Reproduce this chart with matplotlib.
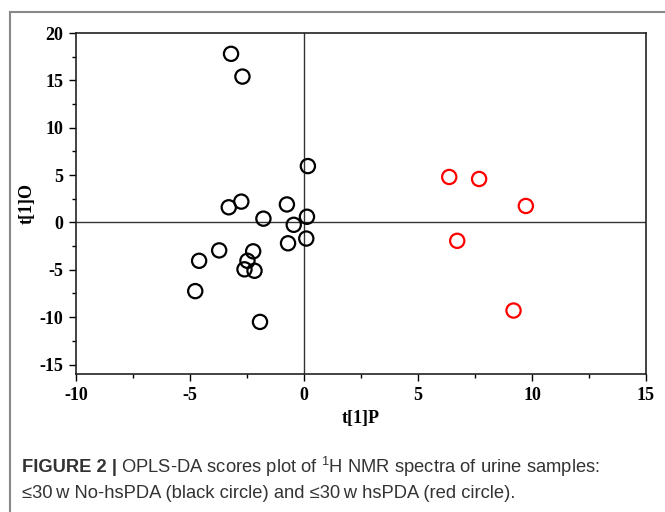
import matplotlib
matplotlib.use("Agg")
import matplotlib.pyplot as plt
from matplotlib.lines import Line2D

# scores
no_hspda_x = [-3.2, -2.7, 0.17, -3.3, -2.75, -0.75, -1.78, -0.45, 0.13, 0.1, -0.7,
              -3.72, -2.23, -2.48, -4.6, -2.61, -2.17, -4.77, -1.93]
no_hspda_y = [17.8, 15.4, 5.95, 1.6, 2.2, 1.9, 0.4, -0.25, 0.6, -1.7, -2.2,
              -2.95, -3.05, -4.05, -4.05, -4.95, -5.1, -7.25, -10.5]
hspda_x = [6.37, 7.68, 9.73, 6.72, 9.19]
hspda_y = [4.8, 4.59, 1.74, -1.94, -9.3]

xticks = [-10, -5, 0, 5, 10, 15]
yticks = [-15, -10, -5, 0, 5, 10, 15, 20]

plt.rcParams['mathtext.default'] = 'regular'
plt.rcParams['axes.unicode_minus'] = False

fig = plt.figure(figsize=(6.65, 5.12), dpi=100)
ax = fig.add_axes([76 / 665, 1 - 374 / 512, 570 / 665, 341 / 512])

ax.axhline(0, color='#333333', lw=1.0, zorder=1)
ax.axvline(0, color='#333333', lw=1.0, zorder=1)

ax.scatter(no_hspda_x, no_hspda_y, s=105, facecolors='none', edgecolors='black',
           linewidths=1.6, zorder=3)
ax.scatter(hspda_x, hspda_y, s=105, facecolors='none', edgecolors='red',
           linewidths=1.6, zorder=3)

ax.set_xlim(-10, 15)
ax.set_ylim(-16, 20)
ax.set_xticks(xticks)
ax.set_yticks(yticks)
ax.set_xticks([-7.5, -2.5, 2.5, 7.5, 12.5], minor=True)
ax.set_yticks([-12.5, -7.5, -2.5, 2.5, 7.5, 12.5, 17.5], minor=True)
ax.tick_params(which='major', length=5, width=1, direction='out', pad=4)
ax.tick_params(which='minor', length=3, width=1, direction='out')
for sp in ax.spines.values():
    sp.set_linewidth(1.2)
    sp.set_color('#222222')

serif = dict(family='Liberation Serif', weight='bold', size=13)
for lab in ax.get_xticklabels() + ax.get_yticklabels():
    lab.set_fontfamily('Liberation Serif')
    lab.set_fontweight('bold')
    lab.set_fontsize(13)
ax.set_xlabel('t[1]P', fontdict=serif, labelpad=5)
ax.set_ylabel('t[1]O', fontdict=serif, labelpad=3)

# outer frame of the figure panel
fig.add_artist(Line2D([10 / 665, 10 / 665], [0, 1 - 12 / 512], transform=fig.transFigure,
                      color='#888888', lw=1.5))
fig.add_artist(Line2D([10 / 665, 1], [1 - 12 / 512, 1 - 12 / 512], transform=fig.transFigure,
                      color='#888888', lw=1.5))

cap = dict(family=['Liberation Sans', 'DejaVu Sans'], size=13.2, color='#333333')
t1 = fig.text(22 / 665, 1 - 467 / 512, 'FIGURE 2 |', fontweight='bold', va='center', **cap)
fig.canvas.draw()
bb = t1.get_window_extent()
fig.text(bb.x1 / fig.bbox.width + 0.006, 1 - 467 / 512,
         'OPLS-DA scores plot of $^1$H NMR spectra of urine samples:', va='center', **cap)
fig.text(22 / 665, 1 - 494 / 512,
         '\u226430\u2009w No-hsPDA (black circle) and \u226430\u2009w hsPDA (red circle).',
         va='center', **cap)

fig.savefig('out.png', dpi=100)
